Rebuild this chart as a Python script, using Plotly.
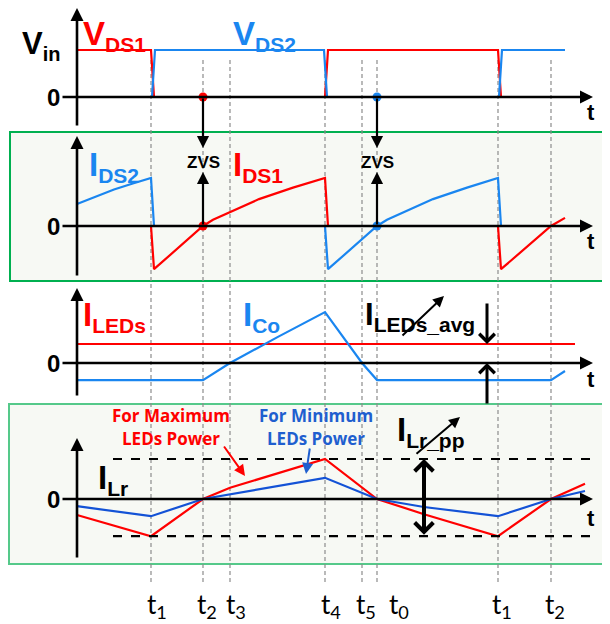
import plotly.graph_objects as go

# reference canvas is 610x624; the page body adds an 8px margin,
# so the figure is placed at (8, 8) and sized to fit the window
REF_W, REF_H = 610, 624
OFF = 8
FW, FH = REF_W - OFF, REF_H - OFF

RED = "#FF0000"
BLUE = "#1A86F0"
DBLUE = "#1352D6"
TBLUE = "#1F5FCF"
GREEN = "#00B050"
LGREEN = "#55C98A"
FILL = "#F7F9F4"
GRAY = "#8C8C8C"

# ---------------- data ----------------
# switching instants (time units, origin at the vertical axes)
t_labels = ["t<sub>1</sub>", "t<sub>2</sub>", "t<sub>3</sub>", "t<sub>4</sub>",
            "t<sub>5</sub>", "t<sub>0</sub>", "t<sub>1</sub>", "t<sub>2</sub>"]
t_marks = [74, 126, 153, 248, 285, 300, 421, 474]
t_axis_end = 516
zvs_times = [126, 300]

# panel 1: drain-source voltages (normalised to Vin)
vds1_t = [0, 74, 77, 248, 251, 421, 424, 488]
vds1_v = [1, 1, 0, 0, 1, 1, 0, 0]
vds2_t = [0, 75, 78, 247, 250, 422, 425, 488]
vds2_v = [0, 0, 1, 1, 0, 0, 1, 1]

# panel 2: drain-source currents
ids2_t = [0, 20, 37, 55, 74, 77, 248, 251, 300, 310, 327, 356, 390, 421, 424, 488]
ids2_v = [0.46, 0.62, 0.76, 0.88, 1.0, 0, 0, -0.9, 0, 0.13, 0.29, 0.56, 0.8, 1.0, 0, 0]
ids1_t = [0, 74, 77, 126, 136, 153, 182, 216, 248, 251, 421, 424, 474, 488]
ids1_v = [0, 0, -0.9, 0, 0.13, 0.29, 0.56, 0.8, 1.0, 0, 0, -0.9, 0, 0.17]

# panel 3: LED current and output capacitor current
iled_t = [0, 498]
iled_v = [1, 1]
ico_t = [0, 74, 126, 153, 200, 248, 285, 300, 474, 488]
ico_v = [-0.9, -0.9, -0.9, 0, 1.35, 2.68, 0, -0.9, -0.9, -0.42]

# panel 4: resonant inductor current
ilr_t = [0, 74, 126, 153, 248, 300, 347, 421, 474, 508]
ilr_max = [-0.4, -0.93, 0, 0.28, 1.0, 0, -0.38, -0.93, 0, 0.38]
ilr_min = [-0.18, -0.43, 0, 0.12, 0.53, 0, -0.2, -0.43, 0, 0.2]
ilr_pp_levels = [1.0, -0.93]
ilr_pp_span = [36, 520]

# ---------------- geometry helpers (reference pixel rows) ----------------
# each panel: (pixel row of its zero line, pixels per unit)
PANELS = {"y": (97, 47), "y2": (226, 48), "y3": (363, 19), "y4": (499, 40)}
X0 = 77  # reference pixel column of the time origin


def yr(p):
    z, u = PANELS[p]
    zf = z - OFF
    return [-(FH - zf) / u, zf / u]


def conv(px, p):
    """reference pixel row -> value in panel p units"""
    z, u = PANELS[p]
    return (z - px) / u


def py(px):
    return 1 - (px - OFF) / FH


def pxr(x):
    return max(0.0, (x - OFF) / FW)


fig = go.Figure()


def line(x, y, yax, color, width=2.2, dash=None):
    fig.add_trace(go.Scatter(x=x, y=y, yaxis=yax, mode="lines",
                             line=dict(color=color, width=width, dash=dash),
                             hoverinfo="skip", showlegend=False))


line(vds1_t, vds1_v, "y", RED)
line(vds2_t, vds2_v, "y", BLUE)
line(ids1_t, ids1_v, "y2", RED)
line(ids2_t, ids2_v, "y2", BLUE)
line(iled_t, iled_v, "y3", RED)
line(ico_t, ico_v, "y3", BLUE)
line(ilr_t, ilr_max, "y4", RED)
line(ilr_t, ilr_min, "y4", DBLUE)
for lv in ilr_pp_levels:
    line(ilr_pp_span, [lv, lv], "y4", "black", 2.2, "dash")

ann = []


def arrow(x, y, ax, ay, yref, width=2.2, head=2, size=1.0, color="black", side="end"):
    ann.append(dict(x=x, y=y, ax=ax, ay=ay, xref="x", yref=yref, axref="x", ayref=yref,
                    text="", showarrow=True, arrowhead=head, arrowsize=size,
                    arrowwidth=width, arrowcolor=color, startarrowhead=head,
                    startarrowsize=size, arrowside=side, standoff=0, startstandoff=0))


def text(x, y, yref, s, size, color="black", xanchor="left", yanchor="middle",
         family="Liberation Sans, Arial", bold=True):
    ann.append(dict(x=x, y=y, xref="x", yref=yref, text=("<b>%s</b>" % s) if bold else s,
                    showarrow=False, xanchor=xanchor, yanchor=yanchor,
                    font=dict(size=size, color=color, family=family)))


def sym(main, sub, sub_px=20):
    return "%s<sub><span style='font-size:%dpx'>%s</span></sub>" % (main, sub_px, sub)


# axes of each panel
axis_bounds = {"y": (127, 8), "y2": (277, 136), "y3": (397, 288), "y4": (559, 438)}
for p, (b, t) in axis_bounds.items():
    arrow(0, conv(t, p), 0, conv(b, p), p, width=2.6, head=2, size=1.0)
    arrow(t_axis_end, 0, -16, 0, p, width=2.6, head=2, size=1.0)

# ZVS arrows between panel 1 and panel 2
for tz in zvs_times:
    arrow(tz, conv(148, "y2"), tz, conv(97, "y2"), "y2", width=2.2, head=2, size=1.1)
    arrow(tz, conv(172, "y2"), tz, 0, "y2", width=2.2, head=2, size=1.1)
    text(tz, conv(162, "y2"), "y2", "ZVS", 17, xanchor="center")

# I_LEDs_avg arrows
arrow(410, 1.0, 410, conv(302, "y3"), "y3", width=3, head=4, size=1.0)
arrow(410, 0, 410, conv(405, "y3"), "y3", width=3, head=4, size=1.0)
arrow(367, conv(296, "y3"), 324, conv(337, "y3"), "y3", width=2, head=2, size=1.1)

# I_Lr_pp arrows
arrow(347, ilr_pp_levels[0], 347, ilr_pp_levels[1], "y4", width=4, head=4, size=0.9, side="end+start")
arrow(383, conv(417, "y4"), 338, conv(455, "y4"), "y4", width=2, head=2, size=1.1)

# callout arrows for max/min power
arrow(168, conv(476, "y4"), 146, conv(445, "y4"), "y4", width=2, head=2, size=1.1, color=RED)
arrow(229, conv(474, "y4"), 233, conv(447, "y4"), "y4", width=2, head=2, size=1.1, color=TBLUE)

# labels
text(-57, conv(45, "y"), "y", sym("V", "in", 20), 31)
text(4, conv(35, "y"), "y", sym("V", "DS1", 21), 33, RED)
text(154, conv(35, "y"), "y", sym("V", "DS2", 21), 33, BLUE)
text(10, conv(166, "y2"), "y2", sym("I", "DS2", 21), 33, BLUE)
text(154, conv(166, "y2"), "y2", sym("I", "DS1", 21), 33, RED)
text(4, conv(316, "y3"), "y3", sym("I", "LEDs", 21), 33, RED)
text(164, conv(316, "y3"), "y3", sym("I", "Co", 21), 33, BLUE)
text(286, conv(316, "y3"), "y3", sym("I", "LEDs_avg", 21), 31)
text(19, conv(479, "y4"), "y4", sym("I", "Lr", 21), 33)
text(318, conv(431, "y4"), "y4", sym("I", "Lr_pp", 21), 33)

text(94, conv(415, "y4"), "y4", "For Maximum", 17, RED, xanchor="center", family="Open Sans")
text(94, conv(438, "y4"), "y4", "LEDs Power", 17, RED, xanchor="center", family="Open Sans")
text(239, conv(415, "y4"), "y4", "For Minimum", 17, TBLUE, xanchor="center", family="Open Sans")
text(239, conv(438, "y4"), "y4", "LEDs Power", 17, TBLUE, xanchor="center", family="Open Sans")

for p in PANELS:
    text(-24, 0, p, "0", 24, xanchor="center")
t_rows = {"y": 112, "y2": 241, "y3": 379, "y4": 518}
for p, r in t_rows.items():
    text(t_axis_end - 2, conv(r, p), p, "t", 22, xanchor="center")

# bottom time labels (small horizontal nudges to sit like the reference)
label_dx = [6, 4, 6, 6, 4, 22, 4, 4]
for tm, lab, dx in zip(t_marks, t_labels, label_dx):
    ann.append(dict(x=tm + dx, y=py(605), xref="x", yref="paper", text=lab, showarrow=False,
                    xanchor="center", yanchor="middle",
                    font=dict(size=26, color="black", family="Lato")))

shapes = []
# panel boxes
shapes.append(dict(type="rect", xref="paper", yref="paper", x0=pxr(10), x1=pxr(608),
                   y0=py(281), y1=py(132), line=dict(color=GREEN, width=2),
                   fillcolor=FILL, layer="below"))
shapes.append(dict(type="rect", xref="paper", yref="paper", x0=pxr(9), x1=pxr(608),
                   y0=py(564), y1=py(404), line=dict(color=LGREEN, width=2),
                   fillcolor=FILL, layer="below"))
# dashed time markers
for tm in t_marks:
    shapes.append(dict(type="line", xref="x", yref="paper", x0=tm, x1=tm,
                       y0=py(582), y1=py(60), line=dict(color=GRAY, width=1.2, dash="4px,3px"),
                       layer="below"))

# dots at ZVS instants
for tz, col in zip(zvs_times, [RED, BLUE]):
    for yax in ["y", "y2"]:
        fig.add_trace(go.Scatter(x=[tz], y=[0], yaxis=yax, mode="markers",
                                 marker=dict(color=col, size=9), hoverinfo="skip",
                                 showlegend=False))

ax_common = dict(visible=False, fixedrange=True, domain=[0, 1])
fig.update_layout(
    width=FW, height=FH, margin=dict(l=0, r=0, t=0, b=0),
    paper_bgcolor="white", plot_bgcolor="white",
    xaxis=dict(range=[-(X0 - OFF), FW - (X0 - OFF)], visible=False, fixedrange=True,
               domain=[0, 1]),
    yaxis=dict(range=yr("y"), **ax_common),
    yaxis2=dict(range=yr("y2"), overlaying="y", **ax_common),
    yaxis3=dict(range=yr("y3"), overlaying="y", **ax_common),
    yaxis4=dict(range=yr("y4"), overlaying="y", **ax_common),
    annotations=ann, shapes=shapes, showlegend=False,
)

fig.write_html("out.html")
